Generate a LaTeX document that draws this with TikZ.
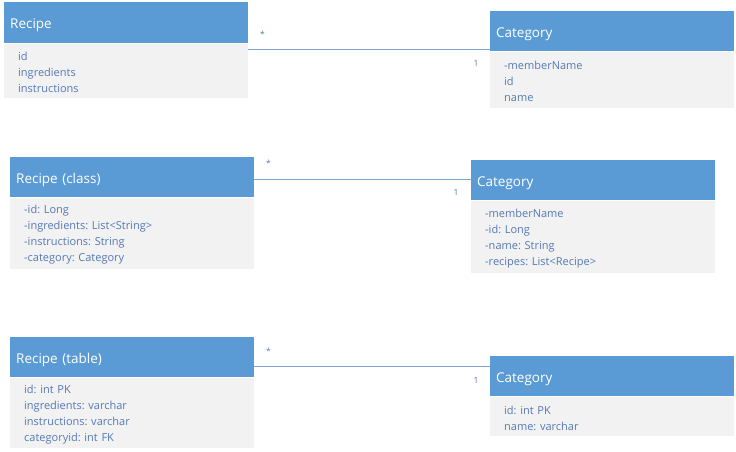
\documentclass[tikz,border=0pt]{standalone}
\usepackage{fontspec}
\setmainfont{Open Sans}
\frenchspacing
\usetikzlibrary{positioning}
\definecolor{entete}{HTML}{5B9BD5}
\definecolor{fond}{HTML}{F2F2F2}
\definecolor{attr}{HTML}{5579B5}
\definecolor{lien}{HTML}{7FA4CC}
\tikzset{
  classe/.style={fill=entete, text=white, anchor=north west, minimum width=244pt, text width=232pt,
    inner xsep=6pt, inner ysep=0pt, minimum height=40pt, text height=14pt, text depth=2pt,
    align=left, font=\fontsize{13.5}{15}\selectfont},
  attrs/.style={fill=fond, text=attr, minimum width=244pt, text width=216pt, inner xsep=14pt,
    inner ysep=0pt, align=left, font=\fontsize{11}{16}\selectfont,
    execute at begin node=\rule{0pt}{12pt}},
  assoc/.style={draw=lien, line width=0.9pt},
  mult/.style={text=attr, font=\fontsize{8.5}{8.5}\selectfont, inner sep=0pt}
}
\begin{document}
\begin{tikzpicture}[x=1pt, y=-1pt]
      \useasboundingbox (0,0) rectangle (736,452);
      % domaine
      \node[classe, minimum height=41pt] (recipe) at (4,2) {Recipe};
      \node[attrs, below=0pt of recipe, minimum height=54pt] (recipebody) {id\\ingredients\\instructions};
      \node[classe] (category) at (490,11) {Category};
      \node[attrs, below=0pt of category, minimum height=56pt] (categorybody) {-memberName\\id\\name};
      \draw[assoc] ([yshift=-47pt]recipe.north east) -- ([yshift=-47pt]recipe.north east -| category.west)
            node[mult, pos=0, xshift=14pt, yshift=15pt] {*}
            node[mult, pos=1, xshift=-14pt, yshift=-14pt] {1};
      % classes
      \node[classe] (recipeclass) at (10,157) {Recipe (class)};
      \node[attrs, below=0pt of recipeclass, minimum height=71pt] (recipeclassbody)
            {-id: Long\\-ingredients: List<String>\\-instructions: String\\-category: Category};
      \node[classe] (categoryclass) at (471,160) {Category};
      \node[attrs, below=0pt of categoryclass, minimum height=72pt] (categoryclassbody)
            {-memberName\\-id: Long\\-name: String\\-recipes: List<Recipe>};
      \draw[assoc] ([yshift=-22pt]recipeclass.north east) -- ([yshift=-22pt]recipeclass.north east -| categoryclass.west)
            node[mult, pos=0, xshift=14pt, yshift=16pt] {*}
            node[mult, pos=1, xshift=-15pt, yshift=-13pt] {1};
      % tables
      \node[classe] (recipetable) at (10,337) {Recipe (table)};
      \node[attrs, below=0pt of recipetable, minimum height=70pt] (recipetablebody)
            {id: int PK\\ingredients: varchar\\instructions: varchar\\categoryid: int FK};
      \node[classe] (categorytable) at (490,356) {Category};
      \node[attrs, below=0pt of categorytable, minimum height=39pt] (categorytablebody)
            {id: int PK\\name: varchar};
      \draw[assoc] ([yshift=-29pt]recipetable.north east) -- ([yshift=-29pt]recipetable.north east -| categorytable.west)
            node[mult, pos=0, xshift=14pt, yshift=15pt] {*}
            node[mult, pos=1, xshift=-14pt, yshift=-14pt] {1};
\end{tikzpicture}
\end{document}
